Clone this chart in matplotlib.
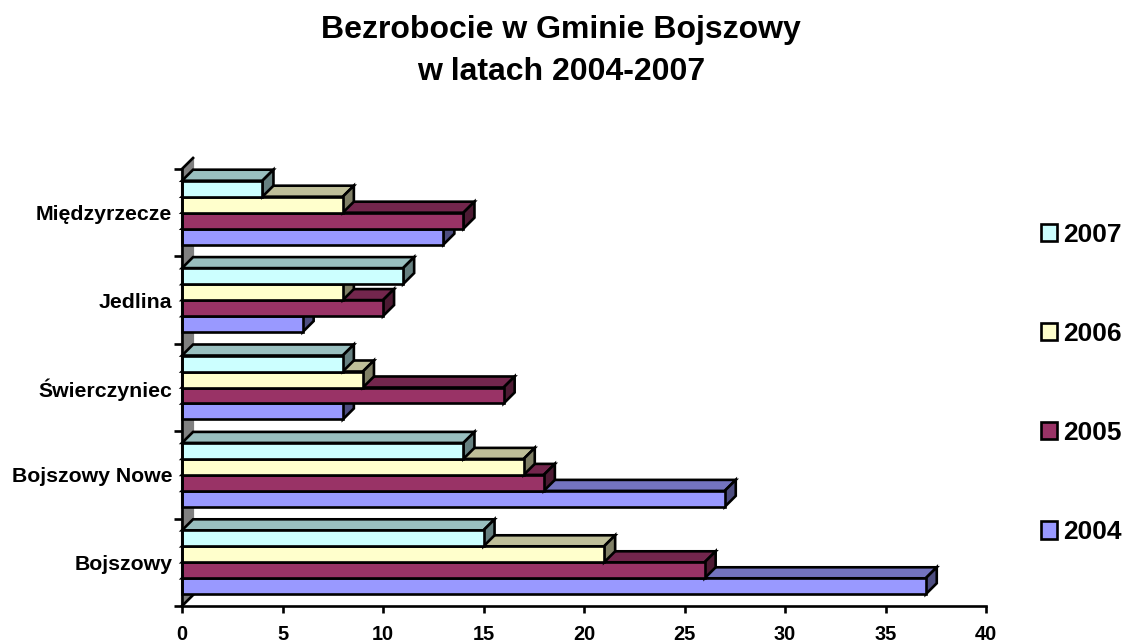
import matplotlib
matplotlib.use("Agg")
import matplotlib.pyplot as plt
from matplotlib.patches import Polygon, Patch
from matplotlib.colors import to_rgb

plt.rcParams['font.family'] = ['Liberation Sans', 'DejaVu Sans']
plt.rcParams['font.weight'] = 'bold'

# values
categories = ["Bojszowy", "Bojszowy Nowe", "Świerczyniec", "Jedlina", "Międzyrzecze"]
years = ["2004", "2005", "2006", "2007"]
v2004 = [37, 27, 8, 6, 13]
v2005 = [26, 18, 16, 10, 14]
v2006 = [21, 17, 9, 8, 8]
v2007 = [15, 14, 8, 11, 4]
series = [v2004, v2005, v2006, v2007]
colors = ["#9999FF", "#993366", "#FFFFCC", "#CCFFFF"]
xticks = [0, 5, 10, 15, 20, 25, 30, 35, 40]

W, H = 1123, 642
fig = plt.figure(figsize=(W / 100, H / 100), dpi=100)
ax = fig.add_axes([182 / W, 1 - 606 / H, (986 - 182) / W, (606 - 169) / H])
ax.set_xlim(0, 40)
ax.set_ylim(0, 5)

dx = 0.55    # depth of the fake 3D, in data units
dy = 0.126
bar_h = 0.183
lw = 1.9


def shade(c, f):
    r, g, b = to_rgb(c)
    return (r * f, g * f, b * f)


# grey back wall
ax.add_patch(Polygon([(0, 0), (dx, dy), (dx, 5 + dy), (0, 5)], closed=True, facecolor="#808080",
                     edgecolor="#808080", linewidth=1.5, clip_on=False, zorder=1))
ax.plot([0, dx], [0, dy], color="black", lw=lw, zorder=1.5, clip_on=False)
ax.plot([0, dx], [5, 5 + dy], color="black", lw=lw, zorder=1.5, clip_on=False)

z = 2
for i in range(len(categories)):
    base = i + 0.5 - 2 * bar_h
    for s in range(len(years)):
        v = series[s][i]
        y0 = base + s * bar_h
        y1 = y0 + bar_h
        c = colors[s]
        ax.add_patch(Polygon([(0, y1), (dx, y1 + dy), (v + dx, y1 + dy), (v, y1)], closed=True,
                             facecolor=shade(c, 0.75), edgecolor="black", linewidth=lw,
                             clip_on=False, zorder=z))
        ax.add_patch(Polygon([(v, y0), (v + dx, y0 + dy), (v + dx, y1 + dy), (v, y1)], closed=True,
                             facecolor=shade(c, 0.5), edgecolor="black", linewidth=lw,
                             clip_on=False, zorder=z))
        ax.barh(y0, v, height=bar_h, align="edge", color=c, edgecolor="black", linewidth=lw,
                clip_on=False, zorder=z + 0.5)
        z += 1

for side in ["top", "right"]:
    ax.spines[side].set_visible(False)
for side in ["left", "bottom"]:
    ax.spines[side].set_linewidth(lw)
    ax.spines[side].set_zorder(z + 1)

ax.set_xticks(xticks)
ax.tick_params(axis="x", length=5, width=lw, pad=8.5, labelsize=14.4)
ax.set_yticks(range(6))
ax.set_yticklabels([])
ax.set_yticks([i + 0.5 for i in range(len(categories))], labels=categories, minor=True)
ax.tick_params(axis="y", which="major", length=6, width=lw)
ax.tick_params(axis="y", which="minor", length=0, pad=7, labelsize=15.3)

fig.text(561 / W, 1 - 51 / H, "Bezrobocie w Gminie Bojszowy\nw latach 2004-2007", ha="center", va="center",
         fontsize=23, fontweight="bold", linespacing=1.48)

handles = [Patch(facecolor=colors[s], edgecolor="black", linewidth=lw, label=years[s])
           for s in reversed(range(len(years)))]
fig.legend(handles=handles, loc="center left", bbox_to_anchor=(1040.5 / W, 1 - 383.5 / H), frameon=False,
           fontsize=19, handlelength=0.62, handleheight=0.62, handletextpad=0.25, labelspacing=2.85,
           borderpad=0, borderaxespad=0)

fig.savefig("out.png", dpi=100)
